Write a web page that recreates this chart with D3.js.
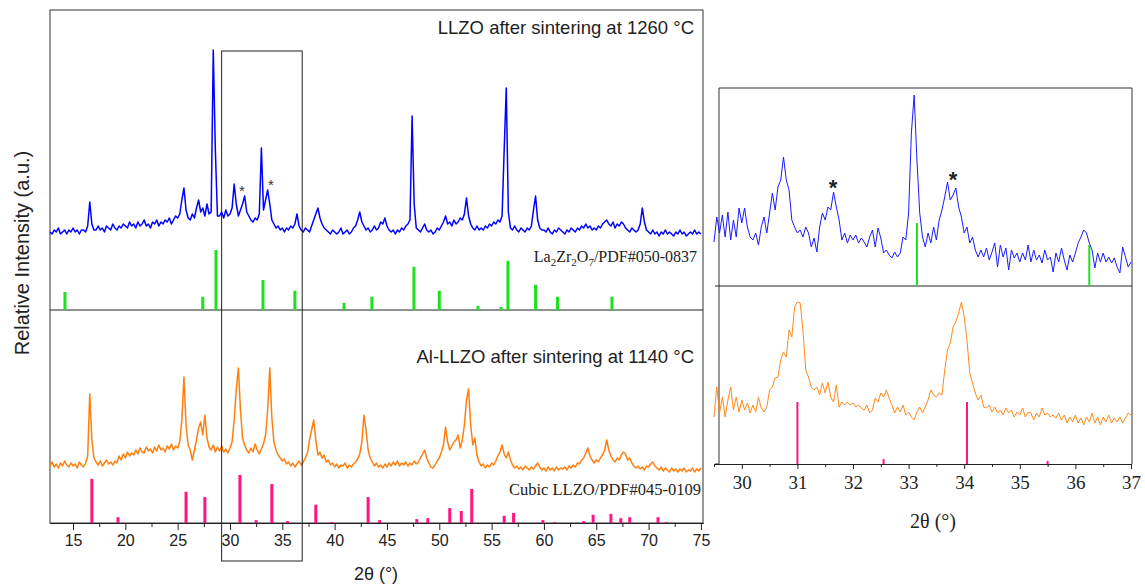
<!DOCTYPE html>
<html>
<head>
<meta charset="utf-8">
<script src="https://cdn.jsdelivr.net/npm/d3@7/dist/d3.min.js"></script>
<style>
body { margin: 0; background: #fff; }
svg { display: block; }
.frame { fill: none; stroke: #333; stroke-width: 1; }
.axis path, .axis line { stroke: #222; }
.axis text { fill: #222; }
.label { fill: #222; }
</style>
</head>
<body>
<svg width="1145" height="585"></svg>
<script>
// ---- data: 2θ scans, each row = [start angle, values...] on a fixed step ----
const wideStep = 0.2;
const llzoRows = [
    [12.8, 4,3,5,4,6,3,4,5,3,5],
    [14.8, 4,6,4,5,3,5,5,4,7,19],
    [16.8, 8,5,5,7,5,6,4,7,6,5],
    [18.8, 8,6,5,7,6,8,7,6,9,7],
    [20.8, 8,6,9,7,8,10,7,8,6,9],
    [22.8, 8,10,7,9,8,10,9,11,8,10],
    [24.8, 12,11,13,20,26,15,11,10,13,11],
    [26.8, 16,20,14,16,12,18,13,14,95,45],
    [28.8, 12,12,14,11,15,12,13,16,28,18],
    [30.8, 12,15,18,22,14,12,10,9,11,10],
    [32.8, 13,46,15,20,25,18,10,8,6,7],
    [34.8, 5,6,4,6,5,7,6,8,13,7],
    [36.8, 5,4,6,5,4,7,10,13,16,11],
    [38.8, 8,6,5,4,3,5,4,3,4,6],
    [40.8, 3,4,5,3,4,6,7,10,14,9],
    [42.8, 7,5,6,4,5,7,5,6,9,8],
    [44.8, 11,7,5,4,5,3,5,4,6,5],
    [46.8, 7,8,10,62,18,6,5,4,6,8],
    [48.8, 5,4,5,3,4,6,5,7,9,12],
    [50.8, 8,9,7,10,8,9,11,10,13,21],
    [52.8, 12,8,6,5,7,5,6,5,7,6],
    [54.8, 8,7,9,8,10,9,12,45,76,14],
    [56.8, 6,5,7,5,4,6,5,4,6,5],
    [58.8, 7,15,22,10,6,5,5,4,6,4],
    [60.8, 3,5,4,6,5,4,3,5,4,6],
    [62.8, 5,4,6,5,7,6,8,6,7,5],
    [64.8, 6,5,7,6,8,9,10,8,7,9],
    [66.8, 6,8,7,9,8,6,5,4,6,5],
    [68.8, 4,5,8,16,9,5,4,3,5,3],
    [70.8, 4,2,4,3,5,3,4,3,2,4],
    [72.8, 3,5,3,4,2,3,4,3,5,3],
    [74.8, 4,3]
];
const alRows = [
    [12.8, 14,18,13,16,12,17,14,19,15,13],
    [14.8, 17,14,16,12,18,15,13,17,24,86],
    [16.8, 40,22,18,15,19,14,17,20,16,18],
    [18.8, 15,19,17,24,20,26,22,28,24,27],
    [20.8, 25,30,26,32,28,27,33,29,31,27],
    [22.8, 33,29,35,30,32,28,34,31,36,30],
    [24.8, 34,32,38,60,103,55,35,30,20,30],
    [26.8, 40,52,58,45,65,42,33,30,35,28],
    [28.8, 33,29,34,28,31,27,32,38,60,90],
    [30.8, 112,70,42,35,30,27,32,28,36,30],
    [32.8, 26,31,36,45,70,112,62,38,30,25],
    [34.8, 22,19,21,16,18,14,17,13,16,19],
    [36.8, 15,18,22,27,40,50,60,40,25,28],
    [38.8, 22,25,18,20,15,17,13,16,12,15],
    [40.8, 14,17,12,15,13,16,18,21,26,38],
    [42.8, 65,50,30,22,18,14,17,13,15,12],
    [44.8, 16,13,17,14,18,15,19,14,17,15],
    [46.8, 18,14,17,15,19,16,18,22,26,30],
    [48.8, 22,17,13,12,15,19,22,28,35,53],
    [50.8, 38,30,34,38,40,45,32,40,55,80],
    [52.8, 91,55,35,42,25,18,14,16,12,15],
    [54.8, 13,17,15,19,24,28,35,26,22,28],
    [56.8, 20,15,12,14,11,13,10,14,12,10],
    [58.8, 13,11,14,17,13,10,12,9,13,10],
    [60.8, 12,9,13,10,12,11,13,10,14,12],
    [62.8, 15,13,17,16,20,22,27,32,24,20],
    [64.8, 17,20,18,22,25,30,40,30,24,20],
    [66.8, 18,22,20,25,28,26,20,22,17,14],
    [68.8, 12,14,11,13,10,14,13,16,18,14],
    [70.8, 12,10,13,9,12,10,8,12,9,11],
    [72.8, 8,11,9,12,8,10,9,12,8,11],
    [74.8, 9,12]
];

// reference patterns (relative intensity, 100 = strongest line)
const lzoPeaks = [14.23, 27.4, 28.66, 33.15, 36.2, 40.9, 43.56, 47.58, 50.0, 53.7, 55.9, 56.56, 59.2, 61.3, 66.5];
const lzoIntensity = [30, 22, 100, 50, 32, 12, 22, 72, 32, 7, 5, 82, 42, 22, 22];
const cubicPeaks = [16.8, 19.3, 25.8, 27.6, 30.95, 32.5, 34.0, 35.5, 38.2, 39.7, 43.2, 44.3, 47.85, 48.9, 51.0, 52.1, 53.1,
    56.2, 57.1, 59.9, 61.0, 63.8, 64.7, 66.4, 67.35, 68.2, 70.9, 71.7];
const cubicIntensity = [92, 12, 65, 54, 100, 6, 81, 4, 38, 2, 54, 6, 8, 10, 31, 25, 71,
    15, 21, 6, 2, 4, 17, 19, 10, 12, 12, 2];

// zoomed 29.5-37° scans
const fineStep = 0.05;
const llzoFineRows = [
    [29.5, 44,69,53,71,49,74,46,66,49,78,63,78,59,49,46,53,41,59,69,53],
    [30.5, 73,93,76,99,106,129,106,96,66,59,53,56,49,59,53,39,48,34,59,73],
    [31.5, 66,79,76,94,79,66,46,53,43,51,46,51,43,48,44,39,49,56,39,58],
    [32.5, 48,33,36,31,28,34,29,33,49,46,73,153,191,126,73,49,39,53,43,59],
    [33.5, 46,66,76,89,104,86,91,98,79,69,53,59,43,49,36,29,36,29,38,26],
    [34.5, 34,43,19,41,29,38,16,36,28,33,24,33,26,41,24,36,26,31,23,36],
    [35.5, 26,29,14,33,24,38,26,16,31,24,33,43,49,56,53,43,36,18,33,24],
    [36.5, 33,24,29,23,28,19,13,39,29,19,24]
];
const alFineRows = [
    [29.5, 47,77,51,67,47,64,77,54,67,52,64,54,61,51,59,52,67,56,52,57],
    [30.5, 74,77,86,87,104,112,107,134,127,157,162,161,134,94,87,77,74,77,69,81],
    [31.5, 71,82,67,62,79,57,62,59,62,59,61,57,59,56,54,59,51,54,66,62],
    [32.5, 71,67,74,66,59,51,57,52,59,49,52,47,44,52,57,51,57,64,74,69],
    [33.5, 67,71,69,94,114,121,137,142,151,162,147,124,91,81,71,64,69,57,56,59],
    [34.5, 52,57,51,54,49,56,51,54,47,52,49,56,47,52,51,44,51,47,56,49],
    [35.5, 51,47,49,46,51,44,49,41,47,42,49,41,46,39,47,42,51,41,47,39],
    [36.5, 47,42,49,41,46,42,47,41,46,51,49]
];
const zoomLzoPeaks = [33.15, 36.25];
const zoomLzoIntensity = [100, 65];
const zoomCubicPeaks = [31.0, 32.55, 34.05, 35.5];
const zoomCubicIntensity = [100, 8, 100, 5];

const wideTicks = [15, 20, 25, 30, 35, 40, 45, 50, 55, 60, 65, 70, 75];
const wideMinor = [17.5, 22.5, 27.5, 32.5, 37.5, 42.5, 47.5, 52.5, 57.5, 62.5, 67.5, 72.5];
const fineTicks = [30, 31, 32, 33, 34, 35, 36, 37];
const fineMinor = [29.5, 30.5, 31.5, 32.5, 33.5, 34.5, 35.5, 36.5];
const zoomWindow = [29.2, 36.9];
const wideStars = [[31.15, 26], [33.92, 29]];
const fineStars = [[31.64, 104], [33.8, 112]];

// ---- helpers ----
function unroll(rows, step) {
    const pts = [];
    rows.forEach((r) => {
        r.slice(1).forEach((v, i) => pts.push({x: r[0] + i * step, y: v}));
    });
    return pts;
}

const sans = "'Liberation Sans', Arial, sans-serif";
const serif = "'Liberation Serif', 'Times New Roman', serif";
const svg = d3.select("svg");

function curve(pts, x, y, color, w) {
    svg.append("path")
        .datum(pts)
        .attr("fill", "none")
        .attr("stroke", color)
        .attr("stroke-width", w)
        .attr("stroke-linejoin", "round")
        .attr("d", d3.line().x((d) => x(d.x)).y((d) => y(d.y)));
}

function sticks(pos, val, x, y, color, w) {
    svg.append("g").selectAll("line")
        .data(pos.map((p, i) => ({x: p, h: val[i]})))
        .enter().append("line")
        .attr("x1", (d) => x(d.x)).attr("x2", (d) => x(d.x))
        .attr("y1", y(0)).attr("y2", (d) => y(d.h))
        .attr("stroke", color)
        .attr("stroke-width", w);
}

// ---- left (wide) panel ----
const xL = d3.scaleLinear().domain([12.8, 75.2]).range([50, 703]);
const yBlue = d3.scaleLinear().domain([0, 100]).range([240, 40]);
const yGreen = d3.scaleLinear().domain([0, 100]).range([310, 250]);
const yOrange = d3.scaleLinear().domain([0, 120]).range([480, 360]);
const yPink = d3.scaleLinear().domain([0, 100]).range([523, 475]);

svg.append("rect").attr("class", "frame")
    .attr("x", 50).attr("y", 10).attr("width", 653).attr("height", 513);
svg.append("line").attr("x1", 50).attr("x2", 703).attr("y1", yGreen(0)).attr("y2", yGreen(0))
    .attr("stroke", "#222");

sticks(lzoPeaks, lzoIntensity, xL, yGreen, "#1ee01e", 3);
sticks(cubicPeaks, cubicIntensity, xL, yPink, "#ff1483", 3);
curve(unroll(llzoRows, wideStep), xL, yBlue, "#0000ff", 1.5);
curve(unroll(alRows, wideStep), xL, yOrange, "#ff7f0e", 1.5);

svg.append("g").attr("class", "axis").attr("transform", "translate(0,523)")
    .call(d3.axisBottom(xL).tickValues(wideMinor).tickSize(4).tickSizeOuter(0).tickFormat(""));
svg.append("g").attr("class", "axis").attr("transform", "translate(0,523)")
    .call(d3.axisBottom(xL).tickValues(wideTicks).tickSize(7).tickSizeOuter(0).tickPadding(5))
    .selectAll("text").style("font", "16px " + sans);

svg.append("rect").attr("fill", "none").attr("stroke", "#222")
    .attr("x", xL(zoomWindow[0])).attr("y", 51)
    .attr("width", xL(zoomWindow[1]) - xL(zoomWindow[0])).attr("height", 510);

svg.selectAll(".wstar").data(wideStars).enter().append("text")
    .attr("class", "label")
    .attr("x", (d) => xL(d[0])).attr("y", (d) => yBlue(d[1]) + 8)
    .attr("text-anchor", "middle")
    .style("font", "15px " + sans).style("fill", "#333")
    .text("*");

svg.append("text").attr("class", "label")
    .attr("x", 694).attr("y", 34).attr("text-anchor", "end")
    .style("font", "18.5px " + sans)
    .text("LLZO after sintering at 1260 \u00b0C");
svg.append("text").attr("class", "label")
    .attr("x", 694).attr("y", 363).attr("text-anchor", "end")
    .style("font", "18.5px " + sans)
    .text("Al-LLZO after sintering at 1140 \u00b0C");

const pdf1 = svg.append("text").attr("class", "label")
    .attr("x", 697).attr("y", 262).attr("text-anchor", "end")
    .style("font", "16px " + serif);
[["La", 0], ["2", 1], ["Zr", 0], ["2", 1], ["O", 0], ["7", 1], ["/PDF#050-0837", 0]].forEach((p, i, a) => {
    const prev = i > 0 ? a[i - 1][1] : 0;
    pdf1.append("tspan")
        .attr("dy", (p[1] - prev) * 4)
        .style("font-size", p[1] ? "11px" : "16px")
        .text(p[0]);
});
svg.append("text").attr("class", "label")
    .attr("x", 701).attr("y", 495).attr("text-anchor", "end")
    .style("font", "16.5px " + serif)
    .text("Cubic LLZO/PDF#045-0109");

svg.append("text").attr("class", "label")
    .attr("transform", "translate(29,253) rotate(-90)")
    .attr("text-anchor", "middle")
    .style("font", "20px " + sans)
    .text("Relative Intensity (a.u.)");
svg.append("text").attr("class", "label")
    .attr("x", 376).attr("y", 580).attr("text-anchor", "middle")
    .style("font", "18px " + sans)
    .text("2\u03b8 (\u00b0)");

// ---- right (zoomed) panel ----
const xR = d3.scaleLinear().domain([29.5, 37]).range([714, 1131]);
const yBlueR = d3.scaleLinear().domain([0, 200]).range([286, 86]);
const yGreenR = d3.scaleLinear().domain([0, 100]).range([286, 223]);
const yOrangeR = d3.scaleLinear().domain([0, 200]).range([464, 264]);
const yPinkR = d3.scaleLinear().domain([0, 100]).range([464, 402]);

svg.append("path").attr("class", "frame")
    .attr("d", "M719,464V88H1132V464");
svg.append("line").attr("x1", 719).attr("x2", 1132).attr("y1", 286).attr("y2", 286)
    .attr("stroke", "#222");
svg.append("path").attr("stroke", "#222").attr("d", "M715,286H719M715,464H719");

sticks(zoomLzoPeaks, zoomLzoIntensity, xR, yGreenR, "#1ee01e", 2);
sticks(zoomCubicPeaks, zoomCubicIntensity, xR, yPinkR, "#ff1483", 2);
curve(unroll(llzoFineRows, fineStep), xR, yBlueR, "#1a1aff", 1);
curve(unroll(alFineRows, fineStep), xR, yOrangeR, "#ff8a1a", 1);

svg.append("g").attr("class", "axis").attr("transform", "translate(0,464)")
    .call(d3.axisBottom(xR).tickValues(fineMinor).tickSize(3).tickSizeOuter(0).tickFormat(""));
svg.append("g").attr("class", "axis").attr("transform", "translate(0,464)")
    .call(d3.axisBottom(xR).tickValues(fineTicks).tickSize(5).tickSizeOuter(0).tickPadding(7))
    .selectAll("text").style("font", "19px " + serif);

svg.selectAll(".fstar").data(fineStars).enter().append("text")
    .attr("class", "label")
    .attr("x", (d) => xR(d[0])).attr("y", (d) => yBlueR(d[1]) + 13)
    .attr("text-anchor", "middle")
    .style("font", "bold 22px " + sans).style("fill", "#222")
    .text("*");

svg.append("text").attr("class", "label")
    .attr("x", 933).attr("y", 528).attr("text-anchor", "middle")
    .style("font", "20px " + serif)
    .text("2\u03b8 (\u00b0)");
</script>
</body>
</html>
